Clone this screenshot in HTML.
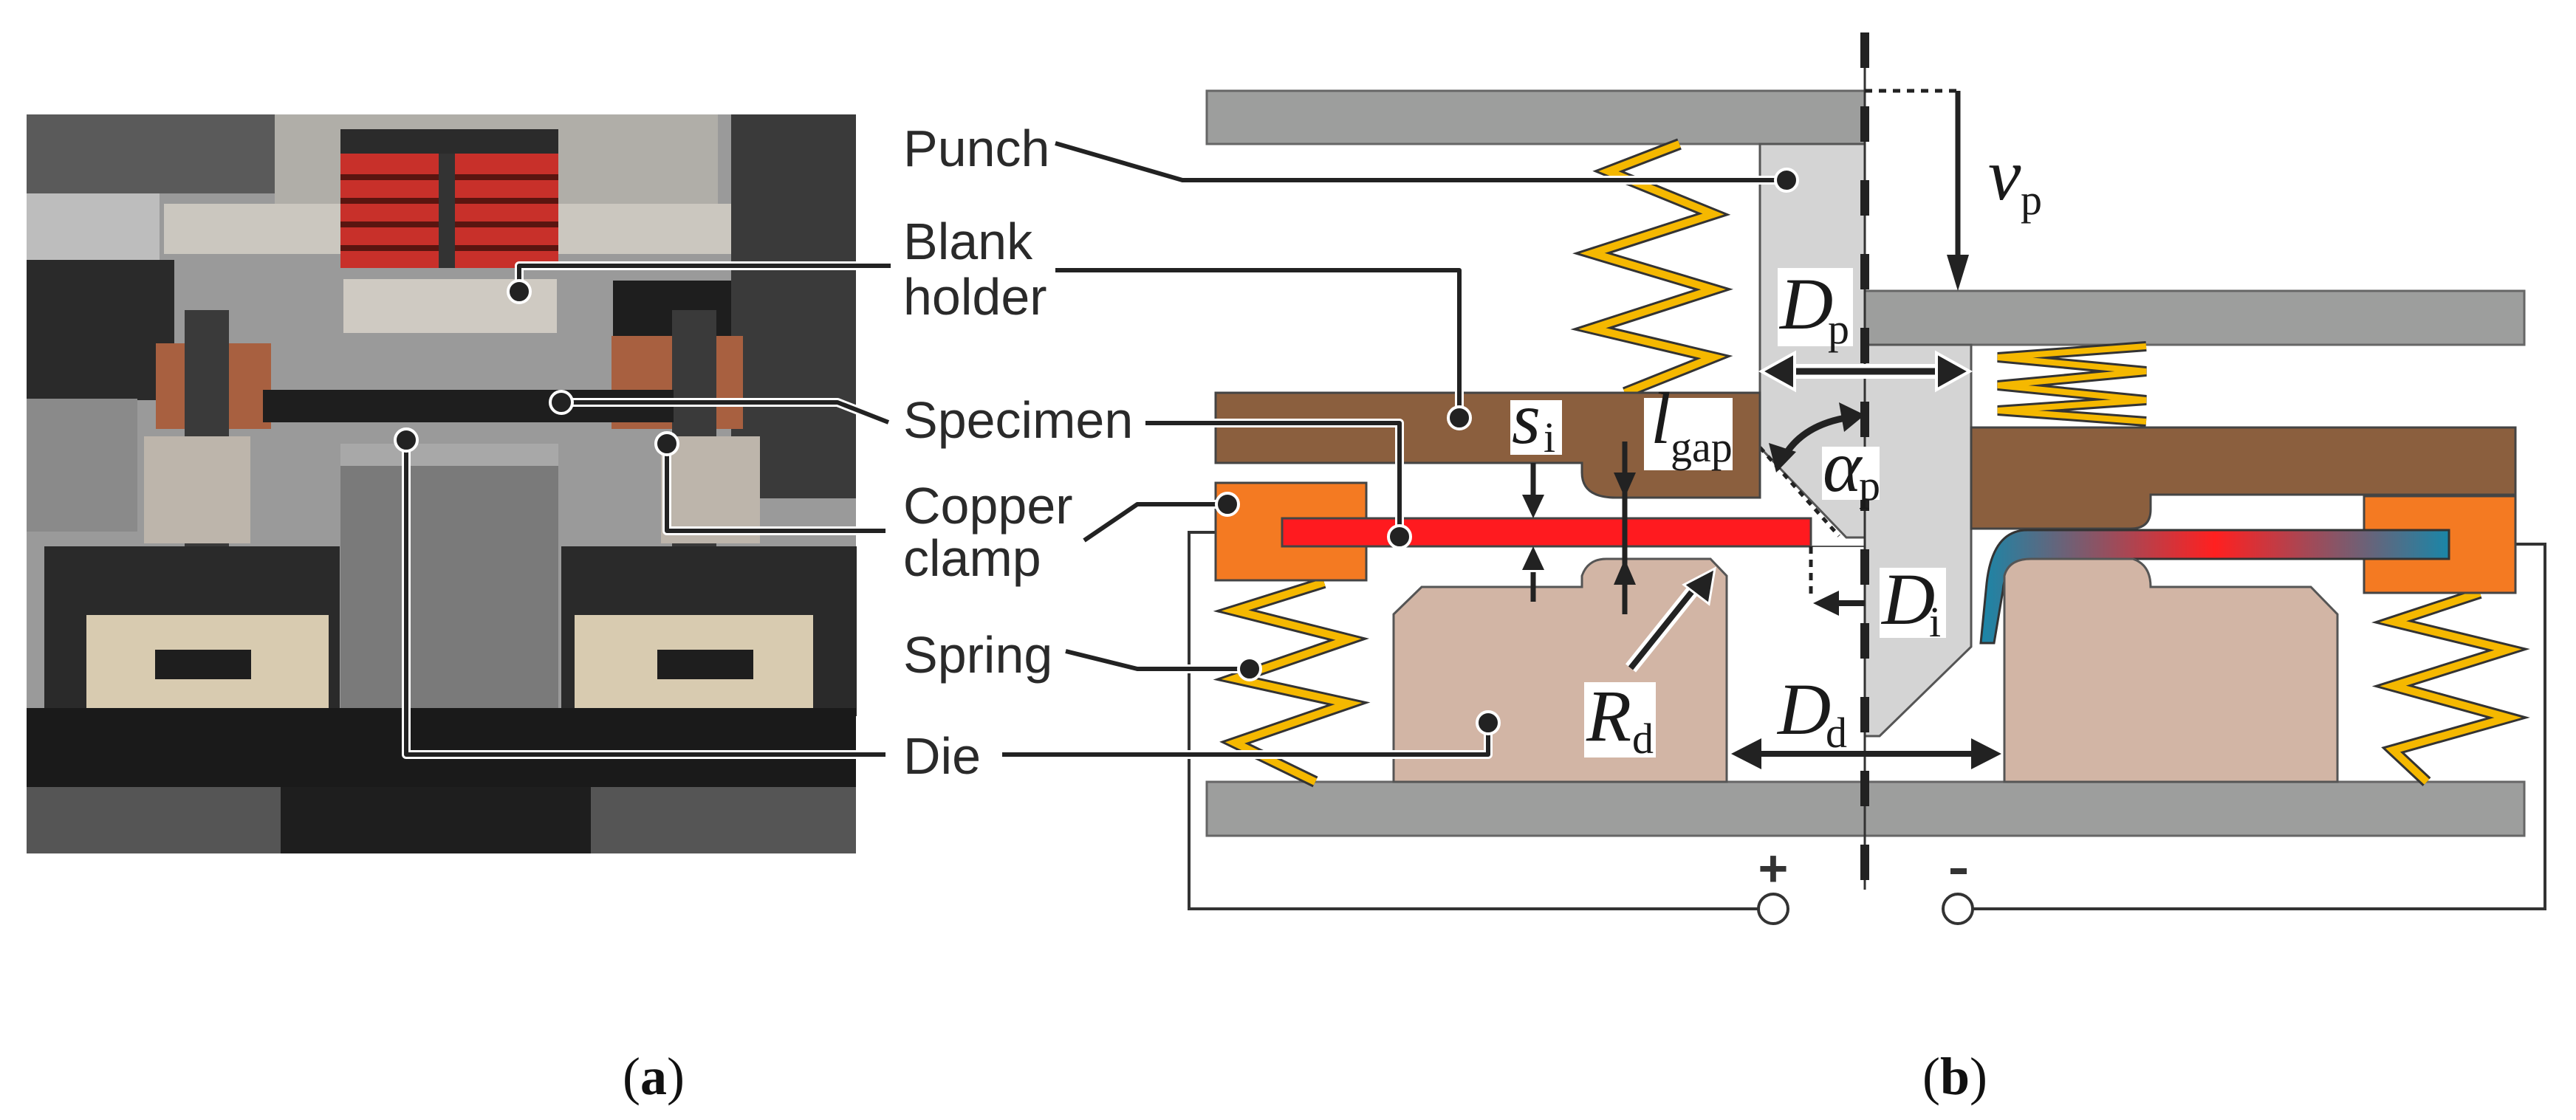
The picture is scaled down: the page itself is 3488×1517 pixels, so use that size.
<!DOCTYPE html>
<html><head><meta charset="utf-8"><style>
html,body{margin:0;padding:0;background:#fff}
svg{display:block}
.lb{font-family:"Liberation Sans",sans-serif;font-size:70px;fill:#2a2a2a}
.m{font-family:"Liberation Serif",serif;font-style:italic;font-size:100px;fill:#1a1a1a}
.s{font-family:"Liberation Serif",serif;font-size:58px;fill:#1a1a1a}
</style></head><body>
<svg width="3488" height="1517" viewBox="0 0 3488 1517" xmlns="http://www.w3.org/2000/svg">
<defs>
<linearGradient id="g" x1="0" x2="1" y1="0" y2="0">
<stop offset="0" stop-color="#1a86a8"/><stop offset="0.5" stop-color="#ff2020"/><stop offset="1" stop-color="#1a86a8"/>
</linearGradient>
<marker id="ah" markerWidth="4" markerHeight="4" refX="2" refY="2" orient="auto" markerUnits="strokeWidth"><path d="M0,0 L4,2 L0,4 z" fill="#222"/></marker>
</defs>

<!-- PHOTO approximation -->
<rect x="36" y="155" width="1123" height="1001" fill="#9a9a9a"/>
<rect x="36" y="155" width="336" height="107" fill="#5a5a5a"/>
<rect x="372" y="155" width="600" height="130" fill="#b0aea8"/>
<rect x="990" y="155" width="169" height="520" fill="#3a3a3a"/>
<rect x="36" y="262" width="180" height="90" fill="#bdbdbd"/>
<rect x="36" y="352" width="200" height="190" fill="#2a2a2a"/>
<rect x="36" y="540" width="150" height="180" fill="#8a8a8a"/>
<rect x="222" y="276" width="768" height="68" fill="#cbc7bf"/>
<rect x="461" y="175" width="295" height="35" fill="#2b2b2b"/>
<rect x="461" y="208" width="295" height="155" fill="#c8302a"/>
<g stroke="#5a1510" stroke-width="8">
<line x1="461" y1="240" x2="756" y2="240"/><line x1="461" y1="272" x2="756" y2="272"/><line x1="461" y1="304" x2="756" y2="304"/><line x1="461" y1="336" x2="756" y2="336"/>
<line x1="605" y1="208" x2="605" y2="363" stroke-width="22" stroke="#333"/></g>
<rect x="465" y="378" width="289" height="73" fill="#cfcac2"/>
<rect x="830" y="380" width="160" height="120" fill="#1e1e1e"/>
<rect x="211" y="465" width="156" height="116" fill="#a86040"/>
<rect x="828" y="455" width="178" height="126" fill="#a86040"/>
<rect x="250" y="420" width="60" height="360" fill="#3a3a3a"/>
<rect x="910" y="420" width="60" height="360" fill="#3a3a3a"/>
<rect x="356" y="528" width="556" height="44" fill="#1e1e1e"/>
<rect x="461" y="601" width="295" height="368" fill="#7a7a7a"/>
<rect x="461" y="601" width="295" height="30" fill="#a8a8a8"/>
<rect x="195" y="591" width="144" height="145" fill="#bdb5ab"/>
<rect x="895" y="591" width="134" height="145" fill="#bdb5ab"/>
<rect x="60" y="740" width="400" height="230" fill="#2a2a2a"/>
<rect x="760" y="740" width="400" height="230" fill="#2a2a2a"/>
<rect x="117" y="833" width="328" height="136" fill="#d8cbb0"/>
<rect x="778" y="833" width="323" height="136" fill="#d8cbb0"/>
<rect x="210" y="880" width="130" height="40" fill="#1e1e1e"/>
<rect x="890" y="880" width="130" height="40" fill="#1e1e1e"/>
<rect x="36" y="959" width="1123" height="107" fill="#1a1a1a"/>
<rect x="36" y="1066" width="1123" height="90" fill="#555"/>
<rect x="380" y="1066" width="420" height="90" fill="#1e1e1e"/>

<!-- photo leaders -->
<g fill="none" stroke-linejoin="round">
<polyline points="703,395 703,360 1206,360" stroke="#fff" stroke-width="12"/>
<polyline points="703,395 703,360 1206,360" stroke="#222" stroke-width="6"/>
<polyline points="760,545 1134,545 1203,572" stroke="#fff" stroke-width="12"/>
<polyline points="760,545 1134,545 1203,572" stroke="#222" stroke-width="6"/>
<polyline points="903,601 903,719 1199,719" stroke="#fff" stroke-width="12"/>
<polyline points="903,601 903,719 1199,719" stroke="#222" stroke-width="6"/>
<polyline points="550,596 550,1022 1199,1022" stroke="#fff" stroke-width="12"/>
<polyline points="550,596 550,1022 1199,1022" stroke="#222" stroke-width="6"/>
</g>
<g fill="#222" stroke="#fff" stroke-width="4">
<circle cx="703" cy="395" r="15"/><circle cx="760" cy="545" r="15"/><circle cx="903" cy="601" r="15"/><circle cx="550" cy="596" r="15"/>
</g>

<!-- labels -->
<text class="lb" x="1223" y="225">Punch</text>
<text class="lb" x="1223" y="351">Blank</text>
<text class="lb" x="1223" y="426">holder</text>
<text class="lb" x="1223" y="593">Specimen</text>
<text class="lb" x="1223" y="709">Copper</text>
<text class="lb" x="1223" y="780">clamp</text>
<text class="lb" x="1223" y="911">Spring</text>
<text class="lb" x="1223" y="1048">Die</text>

<!-- circuit wires -->
<polyline points="1646,721 1610,721 1610,1231 2381,1231" fill="none" stroke="#333" stroke-width="4"/>
<polyline points="2671,1231 3446,1231 3446,737 3406,737" fill="none" stroke="#333" stroke-width="4"/>
<circle cx="2401" cy="1231" r="20" fill="#fff" stroke="#333" stroke-width="4"/>
<circle cx="2651" cy="1231" r="20" fill="#fff" stroke="#333" stroke-width="4"/>
<text x="2401" y="1200" text-anchor="middle" font-family="Liberation Sans,sans-serif" font-size="70" font-weight="bold" fill="#333">+</text>
<rect x="2641" y="1176" width="22" height="8" fill="#333"/>

<!-- plates -->
<rect x="1634" y="123" width="891" height="72" fill="#9d9e9d" stroke="#666" stroke-width="3"/>
<rect x="2525" y="394" width="893" height="73" fill="#9d9e9d" stroke="#666" stroke-width="3"/>
<rect x="1634" y="1059" width="1784" height="73" fill="#9d9e9d" stroke="#666" stroke-width="3"/>

<!-- springs -->
<g fill="none" stroke-linejoin="miter">
<polyline points="2274,195 2178,232 2320,290 2156,343 2320,392 2156,445 2320,484 2200,532" stroke="#333" stroke-width="16"/>
<polyline points="2274,195 2178,232 2320,290 2156,343 2320,392 2156,445 2320,484 2200,532" stroke="#f5b800" stroke-width="10"/>
<polyline points="1793,789 1672,827 1826,866 1672,919 1826,953 1672,1006 1781,1059" stroke="#333" stroke-width="16"/>
<polyline points="1793,789 1672,827 1826,866 1672,919 1826,953 1672,1006 1781,1059" stroke="#f5b800" stroke-width="10"/>
<polyline points="3358,803 3240,842 3396,880 3240,929 3396,972 3240,1016 3286,1059" stroke="#333" stroke-width="16"/>
<polyline points="3358,803 3240,842 3396,880 3240,929 3396,972 3240,1016 3286,1059" stroke="#f5b800" stroke-width="10"/>
<polyline points="2906,469 2705,484 2906,503 2705,522 2906,542 2705,556 2906,571" stroke="#333" stroke-width="14"/>
<polyline points="2906,469 2705,484 2906,503 2705,522 2906,542 2705,556 2906,571" stroke="#f5b800" stroke-width="8"/>
</g>

<!-- punch -->
<path d="M2383,195 L2525,195 L2525,467 L2669,467 L2669,876 L2545,997 L2525,997 L2525,728 L2500,728 L2383,606 Z" fill="#d4d4d4" stroke="#555" stroke-width="3"/>
<line x1="2383" y1="606" x2="2490" y2="726" stroke="#222" stroke-width="5" stroke-dasharray="8,8"/>

<!-- blank holders -->
<path d="M1646,532 L2383,532 L2383,674 L2188,674 Q2142,674 2142,640 L2142,627 L1646,627 Z" fill="#8b5f3e" stroke="#444" stroke-width="3"/>
<path d="M2669,579 L3406,579 L3406,670 L2912,670 L2912,690 Q2912,716 2885,716 L2669,716 Z" fill="#8b5f3e" stroke="#444" stroke-width="3"/>

<!-- clamps -->
<rect x="1646" y="654" width="204" height="132" fill="#f47a22" stroke="#444" stroke-width="3"/>
<rect x="3201" y="672" width="205" height="131" fill="#f47a22" stroke="#444" stroke-width="3"/>

<!-- specimens -->
<rect x="1736" y="702" width="716" height="38" fill="#ff1a1f" stroke="#444" stroke-width="3"/>
<line x1="2452" y1="740" x2="2525" y2="740" stroke="#555" stroke-width="2"/>
<path d="M2745,718 L3316,718 L3316,757 L2760,757 Q2715,757 2712,800 L2700,871 L2682,871 L2690,790 Q2698,718 2745,718 Z" fill="url(#g)" stroke="#333" stroke-width="3"/>

<!-- dies -->
<path d="M1887,832 L1925,795 L2142,795 L2142,780 Q2150,757 2175,757 L2316,757 L2338,780 L2338,1059 L1887,1059 Z" fill="#d2b5a5" stroke="#555" stroke-width="3"/>
<path d="M2714,780 Q2720,757 2750,757 L2888,757 Q2912,765 2912,795 L3129,795 L3165,832 L3165,1059 L2714,1059 Z" fill="#d2b5a5" stroke="#555" stroke-width="3"/>

<!-- centerline -->
<line x1="2525" y1="44" x2="2525" y2="1205" stroke="#333" stroke-width="3"/>
<line x1="2525" y1="44" x2="2525" y2="1205" stroke="#222" stroke-width="12" stroke-dasharray="48,52"/>

<!-- vp -->
<line x1="2525" y1="123" x2="2651" y2="123" stroke="#222" stroke-width="5" stroke-dasharray="10,9"/>
<line x1="2651" y1="123" x2="2651" y2="350" stroke="#222" stroke-width="7"/>
<path d="M2636,345 L2666,345 L2651,394 Z" fill="#222"/>
<text class="m" x="2692" y="270" font-size="90">v</text><text class="s" x="2736" y="290">p</text>

<!-- Dp -->
<rect x="2407" y="363" width="102" height="106" fill="#fff"/>
<text class="m" x="2410" y="445">D</text><text class="s" x="2475" y="465">p</text>
<line x1="2420" y1="503" x2="2632" y2="503" stroke="#fff" stroke-width="20"/>
<line x1="2420" y1="503" x2="2632" y2="503" stroke="#222" stroke-width="9"/>
<path d="M2385,503 L2430,478 L2430,528 Z M2667,503 L2622,478 L2622,528 Z" fill="#222" stroke="#fff" stroke-width="4"/>

<!-- si -->
<rect x="2045" y="542" width="70" height="74" fill="#fff"/>
<text class="m" x="2047" y="600" font-size="85">s</text><text class="s" x="2090" y="612">i</text>
<line x1="2076" y1="627" x2="2076" y2="675" stroke="#222" stroke-width="7"/>
<path d="M2061,670 L2091,670 L2076,702 Z" fill="#222"/>
<line x1="2076" y1="775" x2="2076" y2="815" stroke="#222" stroke-width="7"/>
<path d="M2061,772 L2091,772 L2076,740 Z" fill="#222"/>

<!-- lgap -->
<rect x="2226" y="539" width="120" height="98" fill="#fff"/>
<text class="m" x="2235" y="600" font-size="90">l</text><text class="s" x="2262" y="625">gap</text>
<line x1="2200" y1="598" x2="2200" y2="832" stroke="#222" stroke-width="7"/>
<path d="M2185,640 L2215,640 L2200,674 Z" fill="#222"/>
<path d="M2185,792 L2215,792 L2200,757 Z" fill="#222"/>

<!-- alpha -->
<path d="M2415,620 Q2440,575 2505,565" fill="none" stroke="#222" stroke-width="9"/>
<path d="M2525,562 L2490,545 L2497,585 Z M2405,640 L2395,600 L2432,612 Z" fill="#222"/>
<rect x="2467" y="605" width="78" height="72" fill="#fff"/>
<text class="m" x="2468" y="665" font-size="90">α</text><text class="s" x="2517" y="677">p</text>

<!-- Di -->
<line x1="2452" y1="740" x2="2452" y2="810" stroke="#222" stroke-width="5" stroke-dasharray="10,8"/>
<line x1="2485" y1="817" x2="2525" y2="817" stroke="#222" stroke-width="8"/>
<path d="M2455,817 L2490,800 L2490,834 Z" fill="#222"/>
<rect x="2545" y="769" width="90" height="95" fill="#fff"/>
<text class="m" x="2548" y="845">D</text><text class="s" x="2612" y="862">i</text>

<!-- Rd -->
<line x1="2208" y1="905" x2="2300" y2="790" stroke="#fff" stroke-width="18"/>
<line x1="2208" y1="905" x2="2300" y2="790" stroke="#222" stroke-width="8"/>
<path d="M2322,770 L2314,818 L2280,792 Z" fill="#222" stroke="#fff" stroke-width="3"/>
<rect x="2145" y="924" width="97" height="102" fill="#fff"/>
<text class="m" x="2148" y="1003">R</text><text class="s" x="2210" y="1020">d</text>

<!-- Dd -->
<text class="m" x="2407" y="994">D</text><text class="s" x="2472" y="1012">d</text>
<line x1="2370" y1="1021" x2="2685" y2="1021" stroke="#222" stroke-width="8"/>
<path d="M2344,1021 L2385,1000 L2385,1042 Z M2710,1021 L2669,1000 L2669,1042 Z" fill="#222"/>

<!-- diagram leaders -->
<g fill="none" stroke-linejoin="round">
<polyline points="1429,194 1601,244 2419,244" stroke="#fff" stroke-width="12"/>
<polyline points="1429,194 1601,244 2419,244" stroke="#222" stroke-width="6"/>
<polyline points="1429,366 1976,366 1976,566" stroke="#fff" stroke-width="12"/>
<polyline points="1429,366 1976,366 1976,566" stroke="#222" stroke-width="6"/>
<polyline points="1551,573 1895,573 1895,727" stroke="#fff" stroke-width="12"/>
<polyline points="1551,573 1895,573 1895,727" stroke="#222" stroke-width="6"/>
<polyline points="1468,732 1540,683 1662,683" stroke="#fff" stroke-width="12"/>
<polyline points="1468,732 1540,683 1662,683" stroke="#222" stroke-width="6"/>
<polyline points="1443,882 1540,906 1692,906" stroke="#fff" stroke-width="12"/>
<polyline points="1443,882 1540,906 1692,906" stroke="#222" stroke-width="6"/>
<polyline points="1357,1022 2015,1022 2015,979" stroke="#fff" stroke-width="12"/>
<polyline points="1357,1022 2015,1022 2015,979" stroke="#222" stroke-width="6"/>
</g>
<g fill="#222" stroke="#fff" stroke-width="4">
<circle cx="2419" cy="244" r="15"/><circle cx="1976" cy="566" r="15"/><circle cx="1895" cy="727" r="15"/>
<circle cx="1662" cy="683" r="15"/><circle cx="1692" cy="906" r="15"/><circle cx="2015" cy="979" r="15"/>
</g>

<!-- captions -->
<text x="885" y="1482" text-anchor="middle" font-family="Liberation Serif,serif" font-size="72" fill="#111">(<tspan font-weight="bold">a</tspan>)</text>
<text x="2647" y="1482" text-anchor="middle" font-family="Liberation Serif,serif" font-size="72" fill="#111">(<tspan font-weight="bold">b</tspan>)</text>
</svg>
</body></html>
